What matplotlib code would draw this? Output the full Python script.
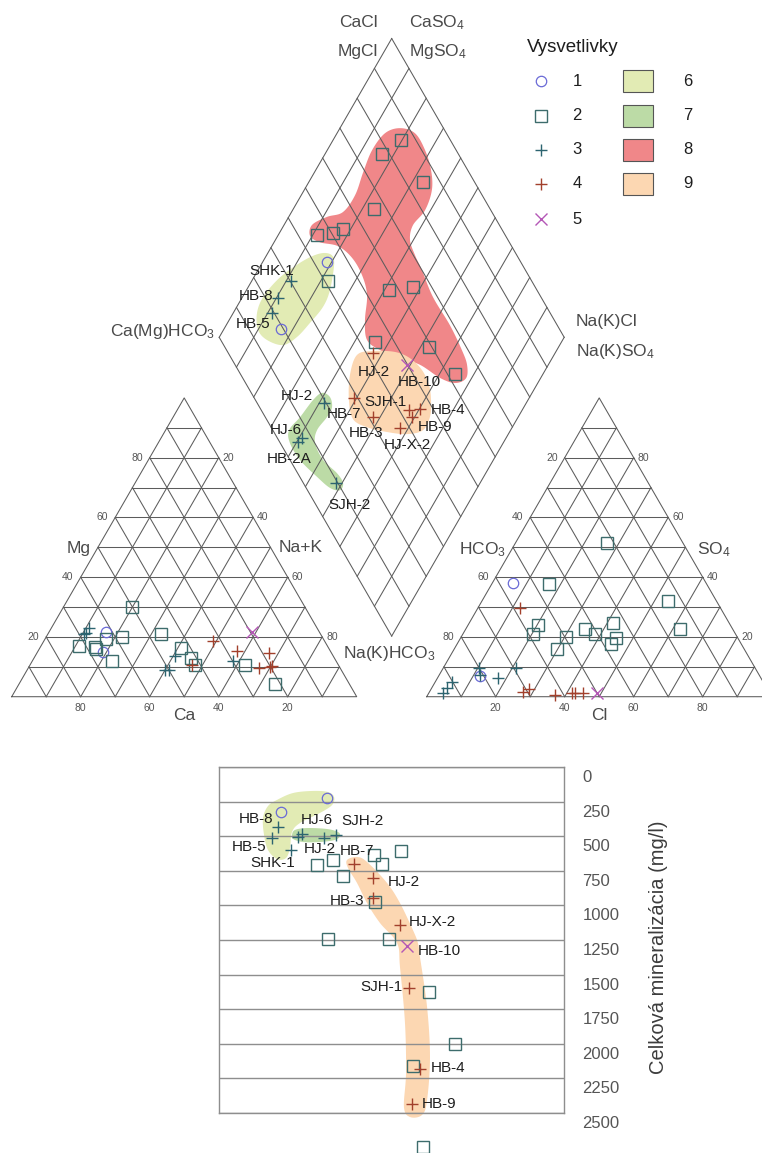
import numpy as np
import matplotlib
matplotlib.use("Agg")
import matplotlib.pyplot as plt
from matplotlib.patches import Polygon, Rectangle
from matplotlib.transforms import ScaledTranslation

plt.rcParams['font.family'] = ['Liberation Sans', 'DejaVu Sans']
plt.rcParams['mathtext.fontset'] = 'custom'
plt.rcParams['mathtext.rm'] = 'Liberation Sans'
plt.rcParams['mathtext.default'] = 'regular'

# ---------------- data (percent of meq) ----------------
# 1 - circles
g1_ca = [62.0, 66.0]; g1_mg = [21.5, 15.0]; g1_na = [16.5, 19.0]
g1_hco3 = [56.0, 81.0]; g1_so4 = [38.0, 7.0]; g1_cl = [6.0, 12.0]
g1_camg = [81.3, 83.5]; g1_clso4 = [43.8, 19.3]
g1_tds = [224, 325]

# 2 - squares
g2_ca = [50.2, 71.9, 67.5, 67.7, 63.1, 57.9, 64.8, 46.1, 42.7, 41.4, 41.4, 27.2, 21.4]
g2_mg = [29.9, 17.1, 16.8, 16.0, 19.3, 20.0, 12.0, 21.0, 16.3, 13.0, 10.7, 10.6, 4.4]
g2_na = [19.9, 11.0, 15.7, 16.3, 17.6, 22.1, 23.2, 32.9, 41.0, 45.6, 47.9, 62.2, 74.2]
g2_hco3 = [22.0, 45.6, 14.0, 15.2, 33.5, 42.7, 40.8, 35.2, 37.9, 49.7, 55.6, 58.6, 54.2]
g2_so4 = [51.3, 37.7, 32.0, 22.8, 24.8, 22.8, 20.9, 19.6, 17.5, 20.0, 24.0, 20.9, 15.9]
g2_cl = [26.7, 16.7, 54.0, 62.0, 41.7, 34.5, 38.3, 45.2, 44.6, 30.3, 20.4, 20.5, 29.9]
g2_camg = [80.3, 83.5, 66.9, 76.6, 88.8, 84.5, 82.2, 77.9, 58.7, 52.2, 54.0, 37.6, 25.5]
g2_clso4 = [85.7, 77.9, 85.0, 66.3, 45.5, 50.5, 54.0, 41.0, 57.1, 64.6, 44.4, 59.2, 62.2]
g2_tds = [607, 701, 2746, 636, 708, 672, 788, 1243, 1243, 2160, 975, 1626, 2001]

# 3 - teal crosses
g3_names = ['SHK-1', 'HB-8', 'HB-5', 'HJ-2', 'HJ-6', 'HB-2A', 'SJH-2']
g3_ca = [65.9, 67.9, 68.6, 46.0, 51.0, 50.0, 30.0]
g3_mg = [23.1, 21.4, 21.1, 13.5, 9.0, 9.0, 12.0]
g3_na = [11.0, 10.7, 10.3, 40.5, 40.0, 41.0, 58.0]
g3_hco3 = [80.0, 80.9, 76.2, 69.3, 90.2, 92.6, 94.7]
g3_so4 = [9.6, 7.3, 6.3, 9.6, 4.9, 2.9, 1.2]
g3_cl = [10.4, 11.8, 17.5, 21.1, 4.9, 4.5, 4.1]
g3_camg = [88.6, 89.5, 88.75, 58.6, 59.1, 59.6, 41.75]
g3_clso4 = [30.2, 23.6, 19.35, 19.4, 7.1, 5.3, 9.45]
g3_tds = [600, 433, 513, 513, 484, 506, 491]

# 4 - brown crosses
g4_names = ['HJ-2', 'HB-7', 'HB-3', 'HJ-X-2', 'SJH-1', 'HB-4', 'HB-9']
g4_ca = [32.3, 27.0, 18.1, 23.5, 20.1, 19.4, 42.4]
g4_mg = [18.7, 15.4, 14.7, 9.7, 10.0, 10.2, 10.7]
g4_na = [49.0, 57.6, 67.2, 66.8, 69.9, 70.4, 46.9]
g4_hco3 = [58.2, 71.3, 69.1, 62.5, 57.3, 56.4, 54.1]
g4_so4 = [29.6, 1.6, 2.6, 0.6, 1.2, 1.2, 1.2]
g4_cl = [12.2, 27.1, 28.3, 36.9, 41.5, 42.4, 44.7]
g4_camg = [52.8, 50.8, 42.1, 32.4, 32.8, 29.8, 30.8]
g4_clso4 = [41.9, 28.9, 31.2, 37.2, 42.8, 46.2, 42.5]
g4_tds = [800, 701, 950, 1142, 1597, 2182, 2435]

# 5 - HB-10
g5_names = ['HB-10']
g5_ca = [19.5]; g5_mg = [21.5]; g5_na = [59.0]
g5_hco3 = [50.0]; g5_so4 = [1.2]; g5_cl = [48.8]
g5_camg = [40.9]; g5_clso4 = [49.8]
g5_tds = [1295]

# water-type fields in the diamond (Ca+Mg %, Cl+SO4 %)
f6_camg = [84.0, 81.0, 78.8, 75.8, 75.0, 76.1, 77.5, 80.2, 85.7, 90.0, 93.1, 94.0, 92.8, 90.3, 87.1]
f6_clso4 = [44.2, 46.4, 45.4, 40.0, 35.2, 28.7, 22.6, 17.2, 13.4, 12.5, 15.0, 19.4, 26.3, 33.1, 39.7]
f7_camg = [60.9, 57.9, 55.6, 55.4, 56.1, 54.5, 49.4, 43.1, 39.7, 39.4, 42.7, 48.3, 56.0, 61.8, 64.2, 63.2, 62.3]
f7_clso4 = [20.5, 22.1, 21.0, 17.9, 12.8, 10.1, 9.6, 11.4, 11.5, 9.4, 6.9, 5.0, 2.9, 2.8, 4.7, 10.1, 16.7]
f8_camg = [82.6, 77.4, 71.7, 66.6, 63.0, 61.6, 62.6, 61.0, 57.0, 52.5, 44.8, 35.1, 27.5, 23.5, 21.6,
           24.0, 29.2, 37.2, 44.1, 51.2, 56.7, 60.6, 64.2, 69.0, 74.8, 80.8, 86.7, 90.6, 91.9, 88.9,
           85.1, 84.4, 85.9, 87.0, 86.1]
f8_clso4 = [87.4, 90.9, 91.0, 89.4, 86.3, 80.9, 74.9, 71.6, 70.5, 70.0, 68.7, 68.9, 68.2, 67.2, 64.7,
            60.7, 57.2, 53.6, 48.9, 44.5, 42.4, 45.1, 49.9, 51.8, 51.8, 49.7, 45.1, 43.3, 45.7, 51.4,
            56.8, 63.2, 69.4, 75.6, 82.2]
f9_camg = [57.1, 53.1, 46.6, 41.2, 35.7, 31.2, 28.1, 25.6, 25.4, 29.4, 35.5, 42.1, 47.5, 51.9, 55.8]
f9_clso4 = [37.0, 42.3, 48.5, 51.8, 53.3, 52.8, 50.9, 47.8, 43.5, 38.2, 32.8, 27.8, 25.1, 27.1, 31.6]

# fields in the mineralization chart ((Cl+SO4)-(Ca+Mg) %, TDS mg/l)
b6_h = [-66.5, -57.2, -45.6, -36.9, -33.4, -34.6, -41.6, -53.2, -57.8, -59.0, -61.3, -66.5, -71.7, -74.0, -74.6, -71.7]
b6_tds = [238, 188, 173, 181, 217, 275, 332, 405, 470, 585, 658, 665, 600, 491, 368, 282]
b7_h = [-56.1, -49.1, -37.5, -31.1, -30.0, -32.9, -41.6, -51.4, -57.2, -57.8]
b7_tds = [455, 441, 448, 470, 499, 527, 542, 542, 520, 491]
b9_h = [-25.9, -20.1, -14.3, -2.7, 4.8, 12.3, 15.2, 16.4, 20.5, 22.2, 20.5, 17.6, 10.6, 7.1, 8.3,
        7.7, 4.8, 3.1, -6.8, -14.3, -20.1, -25.3]
b9_tds = [672, 650, 686, 838, 983, 1178, 1272, 1373, 1734, 2095, 2406, 2514, 2529, 2457, 2211,
          1850, 1445, 1272, 1127, 983, 838, 730]

tds_ticks = list(range(0, 2501, 250))
tri_ticks = [20, 40, 60, 80]
legend_labels = ['1', '2', '3', '4', '5']
field_labels = ['6', '7', '8', '9']

# ---------------- styles ----------------
C_CIRC = '#6a6ad6'
C_SQ = '#3d6c6c'
C_TEAL = '#2c6470'
C_BROWN = '#a2402c'
C_PURP = '#b457b6'
F6, F7, F8, F9 = '#e2ebb4', '#bcdba6', '#f08789', '#fcd7b2'
GRID = '#5c5c5c'
TXT = '#1e1e1e'
GRAY_TXT = '#4a4a4a'

W, H = 762, 1153
fig = plt.figure(figsize=(W / 100, H / 100), dpi=100)
ax = fig.add_axes([0, 0, 1, 1])
ax.set_xlim(0, W)
ax.set_ylim(H, 0)
ax.axis('off')

SIDE = 345.0
HGT = SIDE * np.sqrt(3) / 2
GAP = 70.0
CAT0 = np.array([11.7, 696.7])
AN0 = CAT0 + np.array([SIDE + GAP, 0.0])
DIA0 = np.array([CAT0[0] + SIDE + GAP / 2, CAT0[1] - GAP / 2 * np.sqrt(3)])


def tri_xy(origin, left, top, right):
    top = np.asarray(top, float)
    right = np.asarray(right, float)
    return origin[0] + SIDE * (right + top / 2) / 100, origin[1] - HGT * top / 100


def cat_xy(ca, mg, na):
    return tri_xy(CAT0, ca, mg, na)


def an_xy(hco3, so4, cl):
    return tri_xy(AN0, hco3, so4, cl)


def dia_xy(camg, clso4):
    camg = np.asarray(camg, float)
    clso4 = np.asarray(clso4, float)
    return DIA0[0] + SIDE / 2 * (clso4 - camg) / 100, DIA0[1] - HGT * (camg + clso4) / 100


def smooth_closed(x, y, n=10):
    P = np.column_stack([x, y])
    m = len(P)
    t = np.linspace(0, 1, n, endpoint=False)[:, None]
    out = []
    for i in range(m):
        p0, p1, p2, p3 = P[i - 1], P[i], P[(i + 1) % m], P[(i + 2) % m]
        out.append(0.5 * (2 * p1 + (-p0 + p2) * t + (2 * p0 - 5 * p1 + 4 * p2 - p3) * t ** 2
                          + (-p0 + 3 * p1 - 3 * p2 + p3) * t ** 3))
    return np.vstack(out)


LW = 0.75


def draw_triangle(to_xy):
    for v in range(10, 100, 10):
        for a, b in [((100 - v, v, 0), (0, v, 100 - v)),
                     ((100 - v, 0, v), (0, 100 - v, v)),
                     ((v, 100 - v, 0), (v, 0, 100 - v))]:
            x0, y0 = to_xy(*a)
            x1, y1 = to_xy(*b)
            ax.plot([x0, x1], [y0, y1], color=GRID, lw=LW, zorder=2)
    xs, ys = to_xy([100, 0, 0, 100], [0, 100, 0, 0], [0, 0, 100, 0])
    ax.plot(xs, ys, color=GRID, lw=LW, zorder=2)


# ---------------- diamond fields ----------------
for fa, fc, col in [(f6_camg, f6_clso4, F6), (f7_camg, f7_clso4, F7),
                    (f8_camg, f8_clso4, F8), (f9_camg, f9_clso4, F9)]:
    px, py = dia_xy(fa, fc)
    ax.add_patch(Polygon(smooth_closed(px, py), closed=True, facecolor=col,
                         edgecolor='none', zorder=1))

# ---------------- grids ----------------
draw_triangle(cat_xy)
draw_triangle(an_xy)
for v in range(0, 101, 10):
    x0, y0 = dia_xy(v, 0)
    x1, y1 = dia_xy(v, 100)
    ax.plot([x0, x1], [y0, y1], color=GRID, lw=LW, zorder=2)
    x0, y0 = dia_xy(0, v)
    x1, y1 = dia_xy(100, v)
    ax.plot([x0, x1], [y0, y1], color=GRID, lw=LW, zorder=2)

# triangle tick numbers
tk = dict(fontsize=7.5, color='#555555', va='center', zorder=5)
for v in tri_ticks:
    x, y = cat_xy(100 - v, v, 0)
    ax.text(x - 7, y, str(v), ha='right', **tk)
    x, y = cat_xy(0, v, 100 - v)
    ax.text(x + 4, y, str(100 - v), ha='left', **tk)
    x, y = cat_xy(100 - v, 0, v)
    ax.text(x, y + 11, str(100 - v), ha='center', **tk)
    x, y = an_xy(100 - v, v, 0)
    ax.text(x - 7, y, str(100 - v), ha='right', **tk)
    x, y = an_xy(0, v, 100 - v)
    ax.text(x + 4, y, str(v), ha='left', **tk)
    x, y = an_xy(100 - v, 0, v)
    ax.text(x, y + 11, str(v), ha='center', **tk)

# axis titles
tt = dict(fontsize=12.5, color=GRAY_TXT, va='center')
ax.text(91, 548, 'Mg', ha='right', **tt)
ax.text(279, 548, 'Na+K', ha='left', **tt)
ax.text(CAT0[0] + SIDE / 2, 716, 'Ca', ha='center', **tt)
ax.text(506, 550, 'HCO$_3$', ha='right', **tt)
ax.text(697, 550, 'SO$_4$', ha='left', **tt)
ax.text(AN0[0] + SIDE / 2, 716, 'Cl', ha='center', **tt)

ct = dict(fontsize=12.5, color=GRAY_TXT, va='baseline')
ax.text(378, 27, 'CaCl', ha='right', **ct)
ax.text(378, 56, 'MgCl', ha='right', **ct)
ax.text(409, 27, 'CaSO$_4$', ha='left', **ct)
ax.text(409, 56, 'MgSO$_4$', ha='left', **ct)
ax.text(215, 336, 'Ca(Mg)HCO$_3$', ha='right', **ct)
ax.text(576, 326, 'Na(K)Cl', ha='left', **ct)
ax.text(576, 356, 'Na(K)SO$_4$', ha='left', **ct)
ax.text(343, 658, 'Na(K)HCO$_3$', ha='left', **ct)

# ---------------- samples ----------------
groups = [
    dict(ca=g1_ca, mg=g1_mg, na=g1_na, hco3=g1_hco3, so4=g1_so4, cl=g1_cl, camg=g1_camg,
         clso4=g1_clso4, tds=g1_tds, st=dict(marker='o', ms=7.5, mfc='none', mec=C_CIRC, mew=0.9)),
    dict(ca=g2_ca, mg=g2_mg, na=g2_na, hco3=g2_hco3, so4=g2_so4, cl=g2_cl, camg=g2_camg,
         clso4=g2_clso4, tds=g2_tds, st=dict(marker='s', ms=8.3, mfc='none', mec=C_SQ, mew=1.0)),
    dict(ca=g3_ca, mg=g3_mg, na=g3_na, hco3=g3_hco3, so4=g3_so4, cl=g3_cl, camg=g3_camg,
         clso4=g3_clso4, tds=g3_tds, st=dict(marker='+', ms=9, mec=C_TEAL, mew=1.0)),
    dict(ca=g4_ca, mg=g4_mg, na=g4_na, hco3=g4_hco3, so4=g4_so4, cl=g4_cl, camg=g4_camg,
         clso4=g4_clso4, tds=g4_tds, st=dict(marker='+', ms=9, mec=C_BROWN, mew=1.0)),
    dict(ca=g5_ca, mg=g5_mg, na=g5_na, hco3=g5_hco3, so4=g5_so4, cl=g5_cl, camg=g5_camg,
         clso4=g5_clso4, tds=g5_tds, st=dict(marker='x', ms=9, mec=C_PURP, mew=1.0)),
]
for g in groups:
    ax.plot(*cat_xy(g['ca'], g['mg'], g['na']), ls='none', zorder=4, **g['st'])
    ax.plot(*an_xy(g['hco3'], g['so4'], g['cl']), ls='none', zorder=4, **g['st'])
    ax.plot(*dia_xy(g['camg'], g['clso4']), ls='none', zorder=4, **g['st'])

# label placement: (ha, dx, dy) in pixels, dy pointing down
dia_lab3 = {'SHK-1': ('right', 3, -10), 'HB-8': ('right', -5, -2), 'HB-5': ('right', -2, 11),
            'HJ-2': ('right', -11, -7), 'HJ-6': ('right', 0, -8), 'HB-2A': ('center', -9, 17),
            'SJH-2': ('center', 14, 22)}
dia_lab4 = {'HJ-2': ('center', 1, 19), 'HB-7': ('center', -10, 16), 'HB-3': ('center', -7, 16),
            'HJ-X-2': ('center', 7, 17), 'SJH-1': ('right', -2, -8), 'HB-4': ('left', 11, 1),
            'HB-9': ('left', 6, 10)}
dia_lab5 = {'HB-10': ('center', 12, 17)}

lab = dict(fontsize=11, color=TXT, va='center', zorder=6)


def put_labels(axis, names, xs, ys, spec, transform=None):
    for n, x, y in zip(names, xs, ys):
        if n not in spec:
            continue
        ha, dx, dy = spec[n]
        axis.annotate(n, (x, y), xytext=(dx, -dy), textcoords='offset pixels', ha=ha,
                      annotation_clip=False, **lab)


put_labels(ax, g3_names, *dia_xy(g3_camg, g3_clso4), dia_lab3)
put_labels(ax, g4_names, *dia_xy(g4_camg, g4_clso4), dia_lab4)
put_labels(ax, g5_names, *dia_xy(g5_camg, g5_clso4), dia_lab5)

# ---------------- legend ----------------
ax.text(527, 52, 'Vysvetlivky', fontsize=13.5, color=TXT, ha='left', va='baseline')
row_y = [81, 116, 150, 184, 219]
for g, lbl, yy in zip(groups, legend_labels, row_y):
    ax.plot([541], [yy], ls='none', **g['st'])
    ax.text(577, yy, lbl, fontsize=12, color=TXT, ha='center', va='center')
for col, lbl, yy in zip([F6, F7, F8, F9], field_labels, row_y[:4]):
    ax.add_patch(Rectangle((623, yy - 11), 30, 22, facecolor=col, edgecolor='#555555', lw=0.8))
    ax.text(688, yy, lbl, fontsize=12, color=TXT, ha='center', va='center')

# ---------------- mineralization chart ----------------
bx0, bx1 = DIA0[0] - SIDE / 2, DIA0[0] + SIDE / 2
by0, by1 = 767.0, 1113.0
ax2 = fig.add_axes([bx0 / W, 1 - by1 / H, (bx1 - bx0) / W, (by1 - by0) / H])
ax2.set_facecolor('none')
ax2.set_xlim(-100, 100)
ax2.set_ylim(2500, 0)
ax2.set_xticks([])
ax2.set_yticks(tds_ticks)
ax2.yaxis.tick_right()
ax2.tick_params(axis='y', length=0, pad=13, labelsize=12, labelcolor='#555555')
for lbl in ax2.get_yticklabels():
    lbl.set_transform(lbl.get_transform() + ScaledTranslation(0, -0.09, fig.dpi_scale_trans))
ax2.grid(axis='y', color='#8e8e8e', lw=1.0)
ax2.set_axisbelow(False)
for s in ax2.spines.values():
    s.set_color('#8e8e8e')
    s.set_linewidth(1.0)
ax2.text(1.272, 0.48, 'Celková mineralizácia (mg/l)', transform=ax2.transAxes, rotation=90,
         ha='center', va='center', fontsize=14.5, color='#3c3c3c')

for bh, bt, col in [(b6_h, b6_tds, F6), (b7_h, b7_tds, F7), (b9_h, b9_tds, F9)]:
    ax2.add_patch(Polygon(smooth_closed(bh, bt), closed=True, facecolor=col, edgecolor='none',
                          zorder=1, clip_on=False))

for g in groups:
    h = np.asarray(g['clso4']) - np.asarray(g['camg'])
    ax2.plot(h, g['tds'], ls='none', zorder=4, clip_on=False, **g['st'])

bot_lab3 = {'HB-8': ('right', -5, -8), 'HB-5': ('right', -6, 9), 'SHK-1': ('right', 4, 13),
            'HJ-6': ('left', -1, -14), 'SJH-2': ('left', 5, -14), 'HJ-2': ('center', -4, 11)}
bot_lab4 = {'HB-7': ('center', 3, -13), 'HJ-2': ('left', 15, 4), 'HB-3': ('right', -9, 3),
            'HJ-X-2': ('left', 9, -3), 'SJH-1': ('right', -6, -1), 'HB-4': ('left', 11, -1),
            'HB-9': ('left', 10, 0)}
bot_lab5 = {'HB-10': ('left', 11, 5)}
put_labels(ax2, g3_names, np.asarray(g3_clso4) - np.asarray(g3_camg), g3_tds, bot_lab3)
put_labels(ax2, g4_names, np.asarray(g4_clso4) - np.asarray(g4_camg), g4_tds, bot_lab4)
put_labels(ax2, g5_names, np.asarray(g5_clso4) - np.asarray(g5_camg), g5_tds, bot_lab5)

fig.savefig('out.png', dpi=100)
